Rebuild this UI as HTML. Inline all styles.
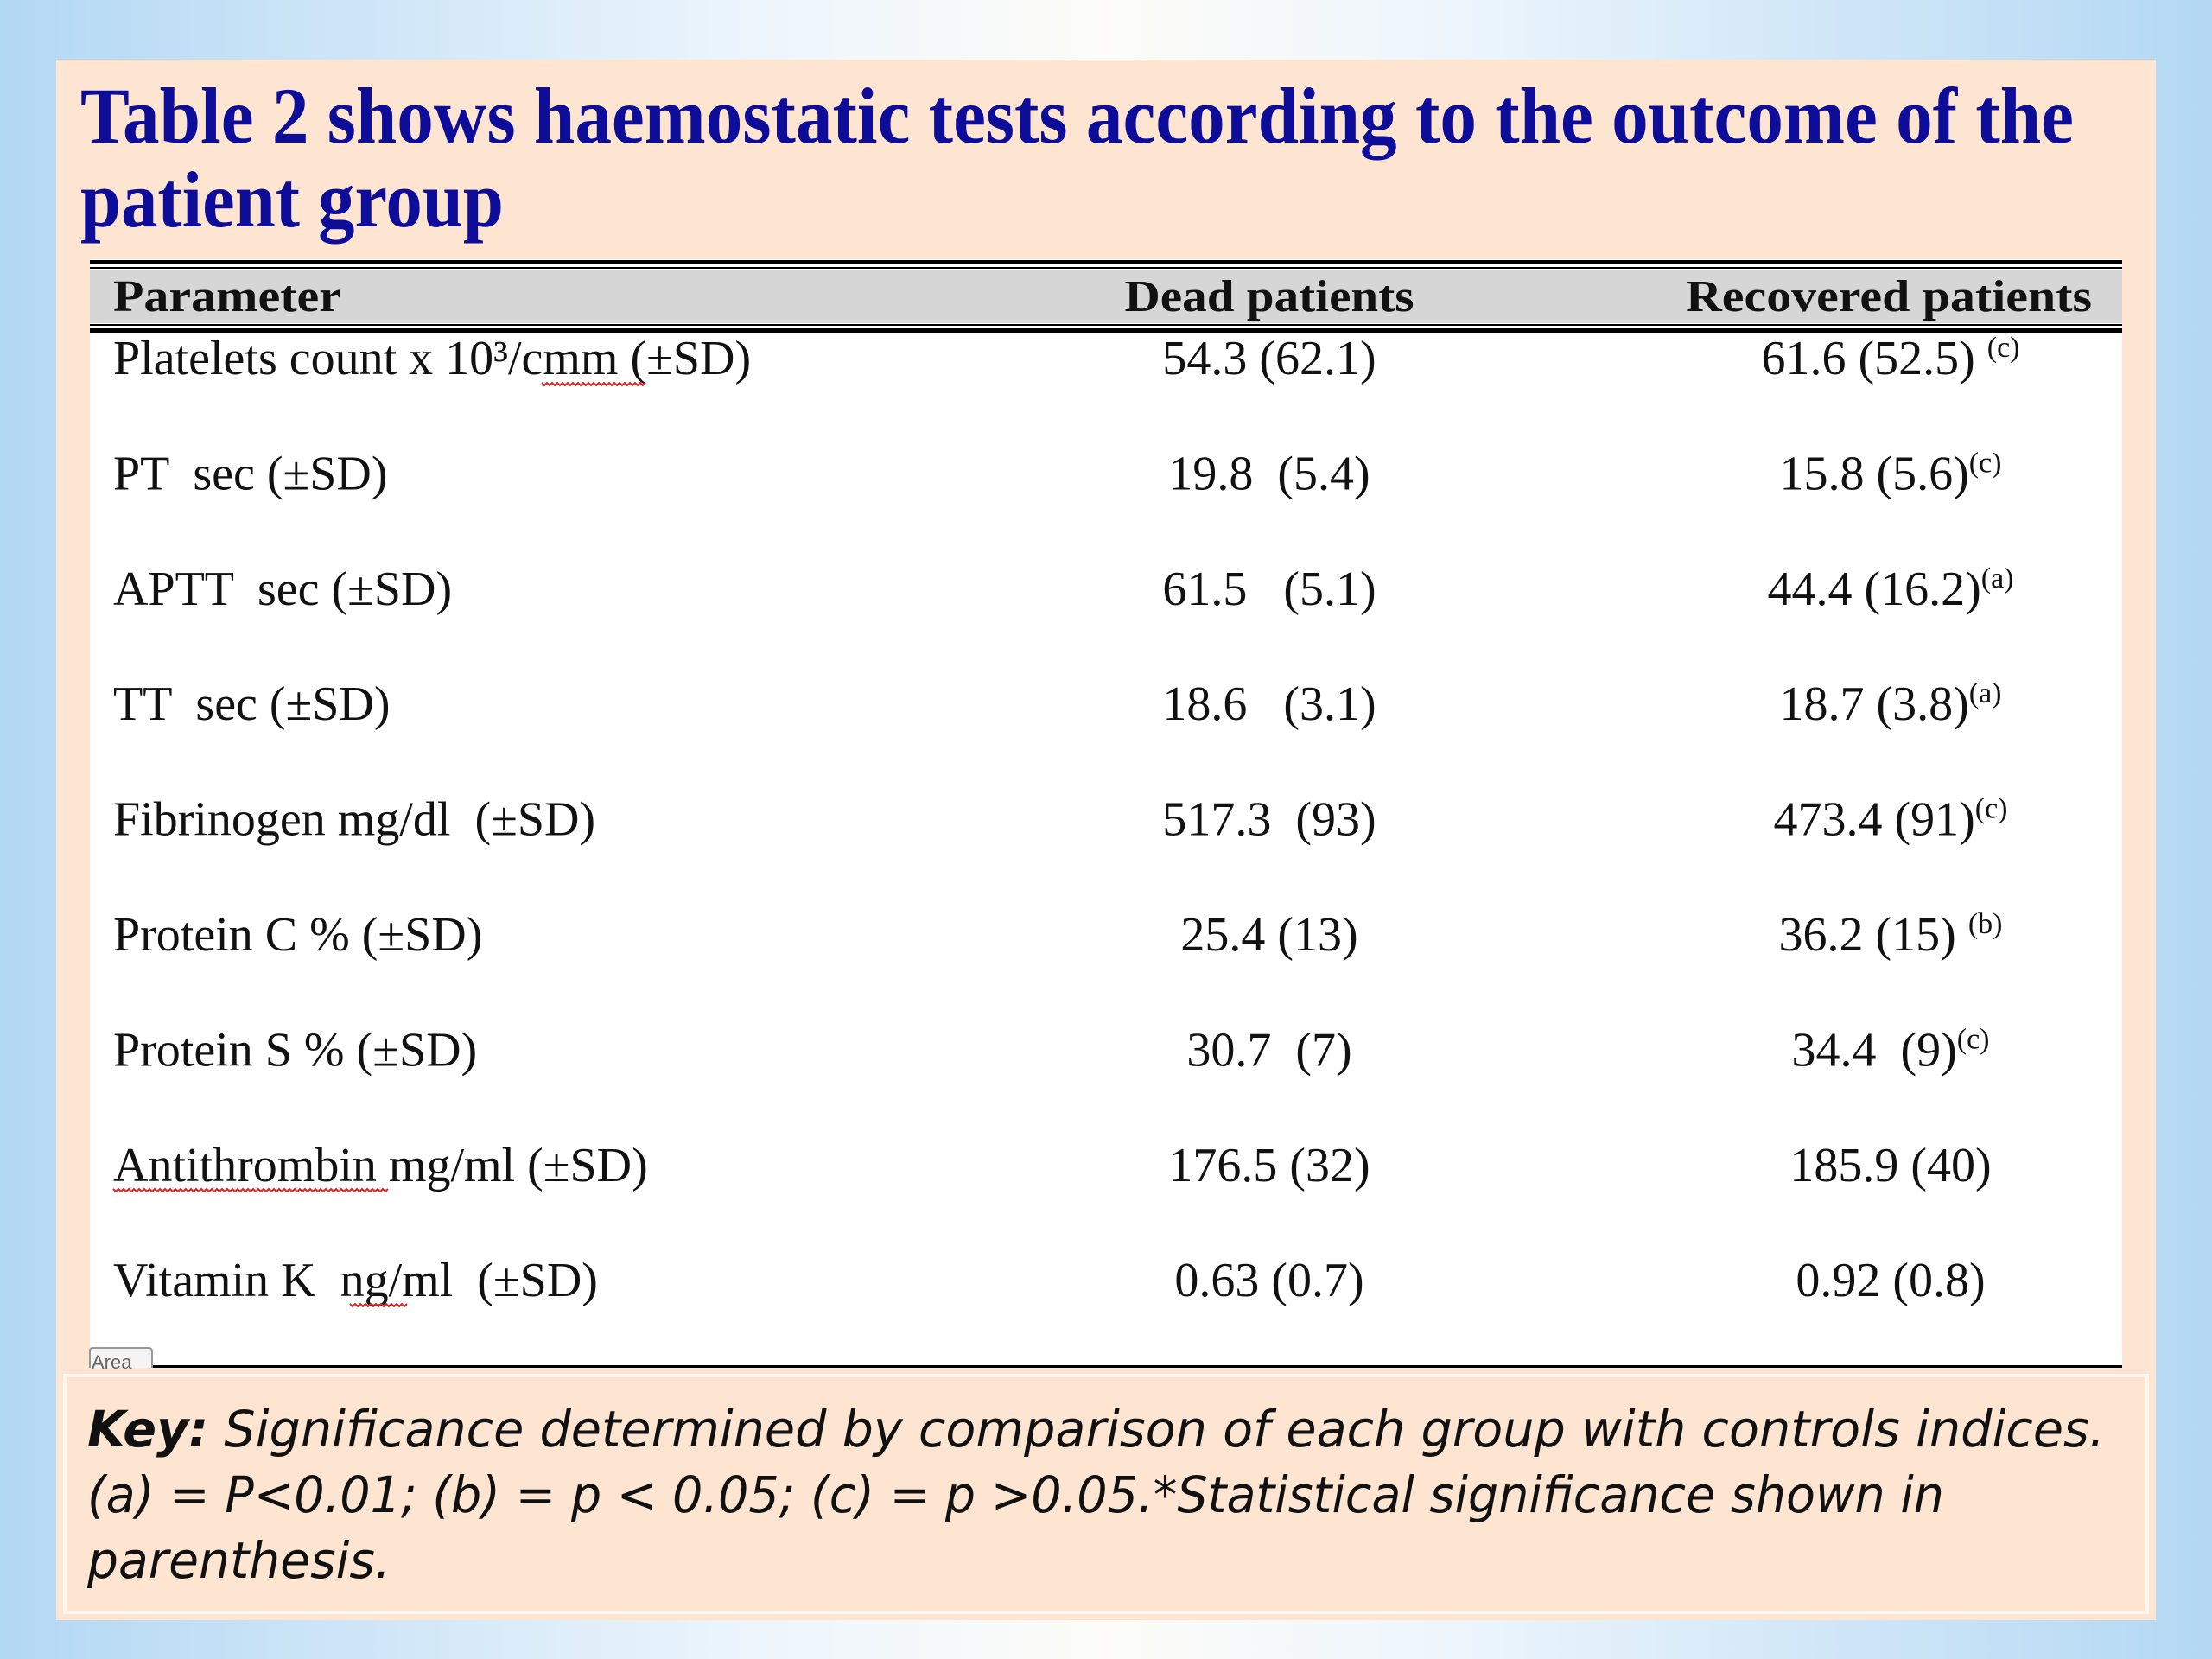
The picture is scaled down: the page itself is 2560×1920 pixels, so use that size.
<!DOCTYPE html>
<html><head><meta charset="utf-8"><style>
html,body{margin:0;padding:0;width:2560px;height:1920px;overflow:hidden;background:#fff}
svg{display:block}
</style></head><body>
<svg id="s" width="2560" height="1920" viewBox="0 0 2560 1920" xmlns="http://www.w3.org/2000/svg">
<defs>
<linearGradient id="bg" x1="0" y1="0" x2="1" y2="0">
<stop offset="0" stop-color="#b3d8f4"/><stop offset="0.35" stop-color="#eef6fc"/><stop offset="0.5" stop-color="#fdfcf8"/><stop offset="0.65" stop-color="#eef6fc"/><stop offset="1" stop-color="#b3d8f4"/>
</linearGradient>
</defs>
<rect width="2560" height="1920" fill="url(#bg)"/>
<rect x="65" y="69" width="2430" height="1806" fill="#fde5d2"/>
<g fill="#0d0d9a" font-family="'Liberation Serif',serif" font-weight="bold" font-size="92">
<text x="93" y="165" textLength="2307" lengthAdjust="spacingAndGlyphs">Table 2 shows haemostatic tests according to the outcome of the</text>
<text x="93" y="262" textLength="490" lengthAdjust="spacingAndGlyphs">patient group</text>
</g>
<rect x="104" y="300" width="2352" height="1282" fill="#ffffff"/>
<rect x="104" y="312" width="2352" height="62" fill="#d6d6d6"/>
<rect x="104" y="301" width="2352" height="5" fill="#000"/>
<rect x="104" y="309" width="2352" height="2" fill="#000"/>
<rect x="104" y="375" width="2352" height="2" fill="#000"/>
<rect x="104" y="380" width="2352" height="5" fill="#000"/>
<rect x="104" y="1580" width="2352" height="3" fill="#000"/>
<g font-family="'Liberation Serif',serif" font-weight="bold" font-size="52" fill="#111">
<text x="131" y="360" textLength="264" lengthAdjust="spacingAndGlyphs">Parameter</text>
<text x="1469" y="360" text-anchor="middle" textLength="335" lengthAdjust="spacingAndGlyphs">Dead patients</text>
<text x="2186" y="360" text-anchor="middle" textLength="470" lengthAdjust="spacingAndGlyphs">Recovered patients</text>
</g>
<g id="rows" font-family="'Liberation Serif',serif" font-size="56" fill="#111"></g>
<g>
<path d="M104 1583 V1563 Q104 1560 108 1560 H172 Q176 1560 176 1564 V1583" fill="#f4f4f4" stroke="#999" stroke-width="2"/>
<text x="106" y="1584" font-family="'Liberation Sans',sans-serif" font-size="22" fill="#666">Area</text>
</g>
<rect x="75" y="1592" width="2410" height="274" fill="#fde5d2" stroke="#fff6ee" stroke-width="4"/>
<g font-family="'DejaVu Sans','Liberation Sans',sans-serif" font-style="italic" font-size="58" fill="#111">
<text x="101" y="1674" textLength="2335" lengthAdjust="spacingAndGlyphs"><tspan font-weight="bold">Key:</tspan> Significance determined by comparison of each group with controls indices.</text>
<text x="101" y="1750" textLength="2149" lengthAdjust="spacingAndGlyphs">(a) = P&lt;0.01; (b) = p &lt; 0.05; (c) = p &gt;0.05.*Statistical significance shown in</text>
<text x="101" y="1826" textLength="351" lengthAdjust="spacingAndGlyphs">parenthesis.</text>
</g>
</svg>
<script>
const parameters = ["Platelets count x 10\u00B3/cmm (\u00B1SD)","PT  sec (\u00B1SD)","APTT  sec (\u00B1SD)","TT  sec (\u00B1SD)","Fibrinogen mg/dl  (\u00B1SD)","Protein C % (\u00B1SD)","Protein S % (\u00B1SD)","Antithrombin mg/ml (\u00B1SD)","Vitamin K  ng/ml  (\u00B1SD)"];
const deadValues = ["54.3 (62.1)","19.8  (5.4)","61.5   (5.1)","18.6   (3.1)","517.3  (93)","25.4 (13)","30.7  (7)","176.5 (32)","0.63 (0.7)"];
const recoveredValues = ["61.6 (52.5) ","15.8 (5.6)","44.4 (16.2)","18.7 (3.8)","473.4 (91)","36.2 (15) ","34.4  (9)","185.9 (40)","0.92 (0.8)"];
const recoveredSig = ["(c)","(c)","(a)","(a)","(c)","(b)","(c)","",""];
const ns = "http://www.w3.org/2000/svg";
const g = document.getElementById('rows');
const rowY = i => 433 + i * 133.4;
parameters.forEach((p, i) => {
  const y = rowY(i);
  const t = document.createElementNS(ns, 'text');
  t.setAttribute('x', 131); t.setAttribute('y', y);
  t.setAttribute('xml:space', 'preserve');
  t.style.whiteSpace = 'pre';
  t.textContent = p;
  
  
  g.appendChild(t);
  const d = document.createElementNS(ns, 'text');
  d.setAttribute('x', 1469); d.setAttribute('y', y);
  d.setAttribute('text-anchor', 'middle');
  d.style.whiteSpace = 'pre';
  d.textContent = deadValues[i];
  
  
  g.appendChild(d);
  const r = document.createElementNS(ns, 'text');
  r.setAttribute('x', 2188); r.setAttribute('y', y);
  r.setAttribute('text-anchor', 'middle');
  r.style.whiteSpace = 'pre';
  r.textContent = recoveredValues[i];
  if (recoveredSig[i]) {
    const s = document.createElementNS(ns, 'tspan');
    s.setAttribute('font-size', '34');
    s.setAttribute('dy', '-20');
    s.textContent = recoveredSig[i];
    r.appendChild(s);
  }
  
  
  g.appendChild(r);
});
function squiggle(x1, x2, y) {
  let d = 'M' + x1 + ' ' + y;
  for (let x = x1; x < x2; x += 6) d += ' L' + (x + 3) + ' ' + (y + 3) + ' L' + (x + 6) + ' ' + y;
  const p = document.createElementNS(ns, 'path');
  p.setAttribute('d', d); p.setAttribute('fill', 'none');
  p.setAttribute('stroke', '#e02020'); p.setAttribute('stroke-width', '2');
  
  
  g.appendChild(p);
}
squiggle(627, 745, 443);
squiggle(131, 448, 1376);
squiggle(405, 468, 1509);
</script>
</body></html>
